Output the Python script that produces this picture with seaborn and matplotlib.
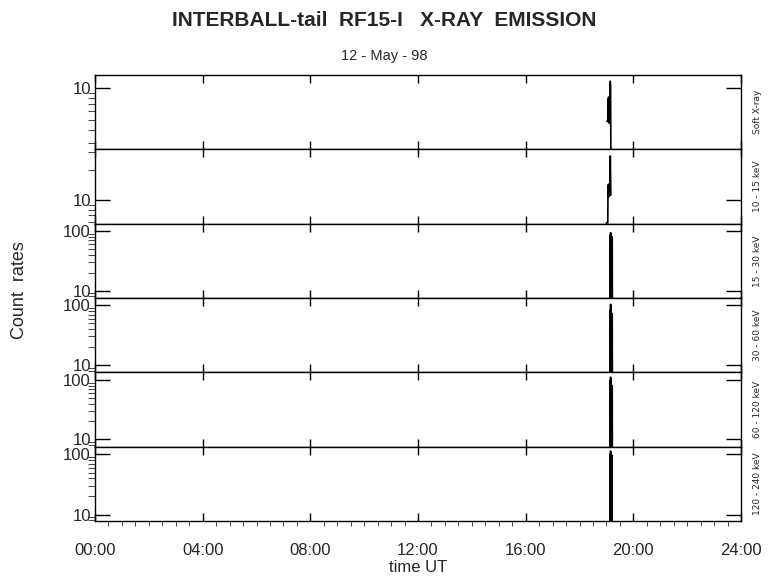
import numpy as np
import pandas as pd
import seaborn as sns
import matplotlib.pyplot as plt
from matplotlib.ticker import FixedLocator, NullFormatter, LogLocator, MultipleLocator, FuncFormatter

# channels (top to bottom)
channels = ["Soft X-ray", "10 - 15 keV", "15 - 30 keV", "30 - 60 keV",
            "60 - 120 keV", "120 - 240 keV"]

# time in hours UT, counts (burst around 19:05-19:15)
t_soft = [19.01, 19.03, 19.05, 19.06, 19.07, 19.08, 19.09, 19.10, 19.11, 19.12, 19.13, 19.145, 19.155, 19.165]
c_soft = [4.8, 4.8, 4.8, 7.8, 5.0, 8.2, 5.2, 7.9, 4.6, 7.4, 5.8, 11.6, 9.5, 2.5]

t_10_15 = [18.99, 19.01, 19.03, 19.05, 19.06, 19.07, 19.08, 19.09, 19.10, 19.11, 19.12, 19.13, 19.145, 19.155, 19.165]
c_10_15 = [5.9, 5.9, 5.9, 5.9, 14.0, 10.6, 14.3, 10.8, 13.9, 11.0, 14.6, 12.2, 27.5, 17.0, 11.2]

t_hard = [19.125, 19.135, 19.145, 19.155, 19.165, 19.175, 19.185, 19.195, 19.205, 19.215, 19.225]
c_15_30 = [1.5, 84, 1.5, 94, 1.5, 88, 1.5, 80, 1.5, 79, 1.5]
c_30_60 = [1.5, 82, 1.5, 104, 1.5, 100, 1.5, 74, 1.5, 72, 1.5]
c_60_120 = [1.5, 98, 1.5, 112, 1.5, 104, 1.5, 82, 1.5, 80, 1.5]

t_120_240 = [19.125, 19.135, 19.145, 19.155, 19.165, 19.175, 19.185, 19.195, 19.205]
c_120_240 = [1.5, 100, 1.5, 114, 1.5, 104, 1.5, 98, 1.5]

hour_ticks = [0, 4, 8, 12, 16, 20, 24]

frames = []
for name, t, c in zip(channels,
                      [t_soft, t_10_15, t_hard, t_hard, t_hard, t_120_240],
                      [c_soft, c_10_15, c_15_30, c_30_60, c_60_120, c_120_240]):
    frames.append(pd.DataFrame({"channel": name, "t": t, "counts": c}))
df = pd.concat(frames, ignore_index=True)

sns.set_style("ticks")
plt.rcParams['font.family'] = ['Liberation Sans', 'DejaVu Sans']

fig = plt.figure(figsize=(7.8, 5.79), dpi=100)
axes = fig.subplots(6, 1, sharex=True, gridspec_kw=dict(hspace=0))
fig.subplots_adjust(left=95/780, right=741/780, top=1-75/579, bottom=1-521/579)

ylims = [(2.6, 13.3), (5.8, 32), (7.5, 133), (7.5, 133), (7.5, 135), (7.8, 135)]
ymajor = [[10], [10], [10, 100], [10, 100], [10, 100], [10, 100]]

for ax, name, yl, ym in zip(axes, channels, ylims, ymajor):
    sns.lineplot(data=df[df.channel == name], x="t", y="counts", ax=ax,
                 color="black", lw=1.2, estimator=None, sort=False)
    ax.set_yscale("log")
    ax.set_ylim(*yl)
    ax.set_xlim(0, 24)
    ax.yaxis.set_major_locator(FixedLocator(ym))
    ax.yaxis.set_major_formatter(FuncFormatter(lambda v, p: f"{v:g}"))
    ax.yaxis.set_minor_locator(LogLocator(base=10, subs=range(2, 10)))
    ax.yaxis.set_minor_formatter(NullFormatter())
    ax.xaxis.set_major_locator(FixedLocator(hour_ticks))
    ax.xaxis.set_minor_locator(MultipleLocator(0.5))
    ax.tick_params(direction="in", top=True, right=True, width=1, color="black")
    ax.tick_params(axis="y", which="major", length=11, labelsize=12, pad=3)
    ax.tick_params(axis="y", which="minor", length=5)
    ax.tick_params(axis="x", which="major", length=6)
    ax.tick_params(axis="x", which="minor", length=3.5)
    ax.set_xlabel("")
    ax.set_ylabel("")
    for s in ax.spines.values():
        s.set_linewidth(1)
        s.set_color("black")
    ax.text(1.025, 0.5, name, transform=ax.transAxes, rotation=90,
            va="center", ha="center", fontsize=6.5, family=['DejaVu Sans'])

axes[-1].xaxis.set_major_formatter(FuncFormatter(lambda v, p: f"{int(v):02d}:00"))
axes[-1].tick_params(axis="x", which="major", labelsize=12, pad=16)

fig.text(0.492, 1-21/579, "INTERBALL-tail  RF15-I   X-RAY  EMISSION",
         ha="center", va="center", fontsize=15, fontweight="bold")
fig.text(0.492, 1-56/579, "12 - May - 98", ha="center", va="center", fontsize=10.5)
fig.text(20/780, 1-290/579, "Count  rates", rotation=90, ha="center", va="center", fontsize=13)
fig.text(418/780, 1-567/579, "time UT", ha="center", va="center", fontsize=12)

fig.savefig("out.png", dpi=100, facecolor="white")
